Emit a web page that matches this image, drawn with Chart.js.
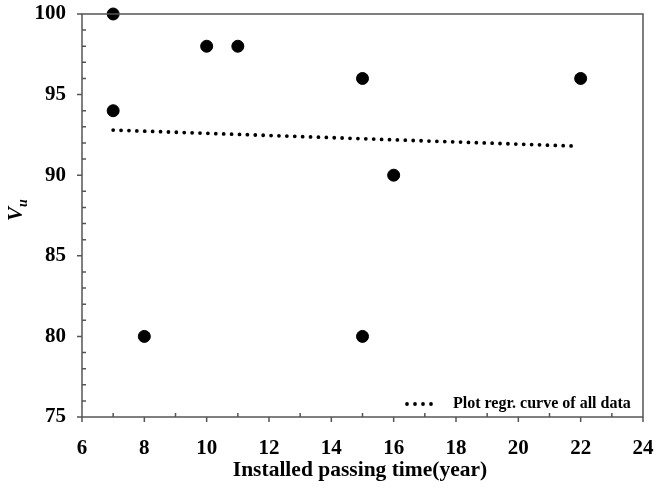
<!DOCTYPE html>
<html>
<head>
<meta charset="utf-8">
<script src="https://cdn.jsdelivr.net/npm/chart.js@4/dist/chart.umd.min.js"></script>
<style>
    html, body { margin: 0; padding: 0; background: #fff; }
    #wrap { width: 671px; height: 488px; }
</style>
</head>
<body>
<div id="wrap"><canvas id="VuChart"></canvas></div>
<script>
// measured points
const years = [7, 7, 8, 10, 11, 15, 15, 16, 22];
const vuValues = [100, 94, 80, 98, 98, 96, 80, 90, 96];

// regression line end points
const regrYears = [7, 21.9];
const regrValues = [92.8, 91.8];

const xTicks = [6, 8, 10, 12, 14, 16, 18, 20, 22, 24];
const yTicks = [75, 80, 85, 90, 95, 100];

const serif = "'Liberation Serif', 'DejaVu Serif', serif";

const framePlugin = {
    id: "frame",
    afterDraw(chart) {
        const ctx = chart.ctx;
        const a = chart.chartArea;
        const xs = chart.scales.x;
        const ys = chart.scales.y;
        ctx.save();
        ctx.strokeStyle = "#555";
        ctx.lineWidth = 1.5;
        ctx.strokeRect(a.left, a.top, a.right - a.left, a.bottom - a.top);

        // major ticks outward, minor ticks inward
        ctx.beginPath();
        for (let v = 6; v <= 24; v++) {
            const px = xs.getPixelForValue(v);
            if (v % 2 === 0) {
                ctx.moveTo(px, a.bottom);
                ctx.lineTo(px, a.bottom + 5);
            } else {
                ctx.moveTo(px, a.bottom);
                ctx.lineTo(px, a.bottom - 4);
            }
        }
        for (let v = 75; v <= 100; v++) {
            const py = ys.getPixelForValue(v);
            if (v % 5 === 0) {
                ctx.moveTo(a.left, py);
                ctx.lineTo(a.left - 5, py);
            } else {
                ctx.moveTo(a.left, py);
                ctx.lineTo(a.left + 4, py);
            }
        }
        ctx.stroke();

        // axis titles
        ctx.fillStyle = "#000";
        ctx.font = "bold 21.5px " + serif;
        ctx.textAlign = "center";
        ctx.textBaseline = "middle";
        ctx.fillText("Installed passing time(year)", 360, 470);

        ctx.save();
        ctx.translate(17, 214);
        ctx.rotate(-Math.PI / 2);
        ctx.font = "italic bold 21px " + serif;
        ctx.textAlign = "left";
        ctx.fillText("V", -7, 0);
        ctx.font = "italic bold 14px " + serif;
        ctx.fillText("u", 7, 6);
        ctx.restore();

        // legend
        const ly = 404;
        ctx.fillStyle = "#000";
        for (let i = 0; i < 4; i++) {
            ctx.beginPath();
            ctx.arc(407 + i * 8, ly, 1.9, 0, Math.PI * 2);
            ctx.fill();
        }
        ctx.font = "bold 16px " + serif;
        ctx.textAlign = "left";
        ctx.fillText("Plot regr. curve of all data", 453, ly);
        ctx.restore();
    }
};

const ctx = document.getElementById("VuChart").getContext("2d");

const vuChart = new Chart(ctx, {
    type: "scatter",
    data: {
        datasets: [
            {
                label: "Vu",
                data: years.map((x, i) => ({ x: x, y: vuValues[i] })),
                backgroundColor: "#000",
                borderColor: "#000",
                pointRadius: 6,
                pointHoverRadius: 6,
                clip: false
            },
            {
                label: "Plot regr. curve of all data",
                type: "line",
                data: regrYears.map((x, i) => ({ x: x, y: regrValues[i] })),
                borderColor: "#000",
                borderWidth: 3.8,
                borderDash: [0, 7.9],
                borderCapStyle: "round",
                pointRadius: 0,
                fill: false,
                tension: 0
            }
        ]
    },
    options: {
        responsive: true,
        maintainAspectRatio: false,
        animation: false,
        layout: {
            padding: { left: 0, right: 28, top: 14, bottom: 0 }
        },
        plugins: {
            legend: { display: false },
            tooltip: { enabled: false }
        },
        scales: {
            x: {
                type: "linear",
                min: 6,
                max: 24,
                afterBuildTicks: (scale) => {
                    scale.ticks = xTicks.map(v => ({ value: v }));
                },
                afterFit: (scale) => {
                    scale.height = 71;
                    scale.paddingLeft = 0;
                    scale.paddingRight = 0;
                },
                grid: { display: false, drawTicks: false },
                border: { display: false },
                ticks: {
                    color: "#000",
                    padding: 19,
                    maxRotation: 0,
                    font: { family: serif, size: 21, weight: "bold" }
                }
            },
            y: {
                type: "linear",
                min: 75,
                max: 100,
                afterBuildTicks: (scale) => {
                    scale.ticks = yTicks.map(v => ({ value: v }));
                },
                afterFit: (scale) => {
                    scale.width = 82;
                    scale.paddingTop = 0;
                    scale.paddingBottom = 0;
                },
                grid: { display: false, drawTicks: false },
                border: { display: false },
                ticks: {
                    color: "#000",
                    padding: 16,
                    font: { family: serif, size: 21, weight: "bold" }
                }
            }
        }
    },
    plugins: [framePlugin]
});
</script>
</body>
</html>
